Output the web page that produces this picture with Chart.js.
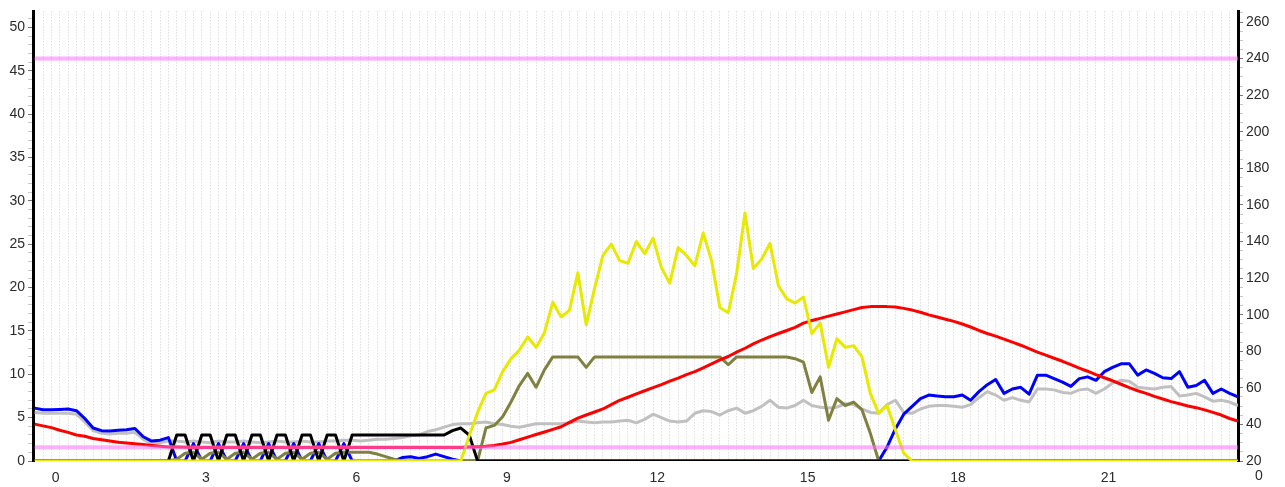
<!DOCTYPE html>
<html>
<head>
<meta charset="utf-8">
<script src="https://cdn.jsdelivr.net/npm/chart.js@4/dist/chart.umd.min.js"></script>
<style>
  html, body { margin: 0; padding: 0; background: #fff; }
</style>
</head>
<body>
<canvas id="myChart" width="1285" height="487"></canvas>
<script>
// one reading every 10 minutes, first one at 23:35 of the day before
var startHour = -25 / 60;
var stepHour = 10 / 60;

var blue = [
  6.1, 5.9, 5.9, 5.95, 6.0, 5.8, 4.9, 3.8, 3.5, 3.45, 3.55, 3.6,
  3.75, 2.8, 2.3, 2.4, 2.7, 0, 0, 2.0, 0, 0, 2.0, 0,
  0, 2.0, 0, 0, 2.0, 0, 0, 2.0, 0, 0, 2.0, 0,
  0, 2.0, 0, 0, 0, 0, 0, 0, 0.4, 0.5, 0.3, 0.5,
  0.8, 0.5, 0.2, 0, 0, 0, 0, 0, 0, 0, 0, 0,
  0, 0, 0, 0, 0, 0, 0, 0, 0, 0, 0, 0,
  0, 0, 0, 0, 0, 0, 0, 0, 0, 0, 0, 0,
  0, 0, 0, 0, 0, 0, 0, 0, 0, 0, 0, 0,
  0, 0, 0, 0, 0, 0, 1.6, 3.7, 5.4, 6.3, 7.2, 7.6,
  7.5, 7.4, 7.4, 7.6, 7.0, 8.0, 8.8, 9.4, 7.8, 8.3, 8.5, 7.7,
  9.9, 9.9, 9.5, 9.1, 8.6, 9.5, 9.7, 9.3, 10.3, 10.8, 11.2, 11.2,
  9.9, 10.5, 10.1, 9.6, 9.5, 10.3, 8.5, 8.7, 9.3, 7.8, 8.3, 7.8,
  7.4
];

var gray = [
  5.6, 5.5, 5.5, 5.5, 5.5, 5.4, 4.5, 3.5, 3.2, 3.1, 3.2, 3.2,
  3.3, 2.5, 2.0, 2.1, 2.3, 2.3, 2.2, 2.3, 2.2, 2.1, 2.3, 2.2,
  2.2, 2.3, 2.2, 2.1, 2.2, 2.3, 2.2, 2.2, 2.3, 2.2, 2.2, 2.3,
  2.3, 2.4, 2.4, 2.3, 2.4, 2.5, 2.5, 2.6, 2.7, 2.9, 3.0, 3.4,
  3.6, 3.9, 4.2, 4.3, 4.3, 4.4, 4.5, 4.3, 4.2, 4.0, 3.9, 4.1,
  4.3, 4.3, 4.3, 4.3, 4.4, 4.6, 4.5, 4.4, 4.5, 4.5, 4.6, 4.7,
  4.4, 4.8, 5.4, 5.0, 4.6, 4.5, 4.6, 5.5, 5.8, 5.7, 5.3, 5.8,
  6.1, 5.5, 5.8, 6.3, 7.0, 6.2, 6.1, 6.4, 7.0, 6.4, 6.2, 6.1,
  6.2, 6.6, 6.5, 6.0, 5.6, 5.5, 6.5, 7.0, 5.6, 5.5, 6.0, 6.3,
  6.4, 6.4, 6.3, 6.2, 6.5, 7.3, 8.0, 7.6, 7.0, 7.3, 7.0, 6.8,
  8.3, 8.3, 8.2, 7.9, 7.8, 8.2, 8.3, 7.8, 8.3, 9.0, 9.3, 9.2,
  8.5, 8.4, 8.3, 8.5, 8.6, 7.5, 7.6, 7.8, 7.4, 6.9, 7.0, 6.8,
  6.4
];

var red = [
  4.25, 4.05, 3.85, 3.55, 3.3, 3.0, 2.85, 2.6, 2.45, 2.3, 2.15, 2.08,
  2.0, 1.9, 1.8, 1.7, 1.62, 1.6, 1.58, 1.57, 1.56, 1.55, 1.55, 1.55,
  1.55, 1.55, 1.55, 1.55, 1.55, 1.55, 1.55, 1.55, 1.55, 1.55, 1.55, 1.55,
  1.55, 1.55, 1.55, 1.55, 1.55, 1.55, 1.55, 1.55, 1.55, 1.55, 1.55, 1.55,
  1.55, 1.55, 1.56, 1.57, 1.6, 1.65, 1.7, 1.8, 1.95, 2.15, 2.45, 2.75,
  3.05, 3.35, 3.65, 3.95, 4.45, 4.95, 5.3, 5.65, 6.0, 6.5, 7.0, 7.35,
  7.75, 8.1, 8.45, 8.8, 9.2, 9.55, 9.95, 10.3, 10.75, 11.2, 11.65, 12.05,
  12.55, 13.0, 13.5, 13.95, 14.35, 14.7, 15.05, 15.4, 15.9, 16.2, 16.45, 16.7,
  16.95, 17.2, 17.45, 17.7, 17.8, 17.8, 17.8, 17.75, 17.6, 17.4, 17.15, 16.85,
  16.6, 16.35, 16.1, 15.8, 15.45, 15.05, 14.7, 14.4, 14.05, 13.7, 13.35, 12.95,
  12.55, 12.2, 11.85, 11.5, 11.1, 10.7, 10.35, 9.95, 9.6, 9.25, 8.85, 8.45,
  8.1, 7.8, 7.45, 7.15, 6.85, 6.6, 6.35, 6.15, 5.9, 5.6, 5.3, 4.9,
  4.6
];

var yellow = [
  0, 0, 0, 0, 0, 0, 0, 0, 0, 0, 0, 0,
  0, 0, 0, 0, 0, 0, 0, 0, 0, 0, 0, 0,
  0, 0, 0, 0, 0, 0, 0, 0, 0, 0, 0, 0,
  0, 0, 0, 0, 0, 0, 0, 0, 0, 0, 0, 0,
  0, 0, 0, 0, 2.9, 5.6, 7.8, 8.2, 10.3, 11.8, 12.8, 14.3,
  13.1, 14.8, 18.3, 16.6, 17.4, 21.7, 15.7, 19.9, 23.7, 25.0, 23.1, 22.8,
  25.3, 23.9, 25.7, 22.3, 20.5, 24.6, 23.7, 22.5, 26.3, 23.1, 17.7, 17.1,
  21.6, 28.6, 22.2, 23.3, 25.1, 20.2, 18.7, 18.2, 18.9, 14.7, 15.9, 10.8,
  14.1, 13.1, 13.3, 12.0, 7.8, 5.5, 6.4, 3.6, 0.9, 0, 0, 0,
  0, 0, 0, 0, 0, 0, 0, 0, 0, 0, 0, 0,
  0, 0, 0, 0, 0, 0, 0, 0, 0, 0, 0, 0,
  0, 0, 0, 0, 0, 0, 0, 0, 0, 0, 0, 0,
  0
];

var olive = [
  0, 0, 0, 0, 0, 0, 0, 0, 0, 0, 0, 0,
  0, 0, 0, 0, 0, 0.2, 0.9, 1.0, 0.2, 0.9, 1.0, 0.2,
  0.9, 1.0, 0.2, 0.9, 1.0, 0.2, 0.9, 1.0, 0.2, 0.9, 1.0, 0.2,
  0.9, 1.0, 1.0, 1.0, 1.0, 0.8, 0.5, 0.2, 0, 0, 0, 0,
  0, 0, 0, 0, 0, 0, 3.8, 4.1, 5.1, 6.8, 8.7, 10.1,
  8.5, 10.5, 12, 12, 12, 12, 10.8, 12, 12, 12, 12, 12,
  12, 12, 12, 12, 12, 12, 12, 12, 12, 12, 12, 11.1,
  12, 12, 12, 12, 12, 12, 12, 11.8, 11.4, 7.9, 9.7, 4.7,
  7.2, 6.4, 6.8, 5.9, 3.2, 0, 0, 0, 0, 0, 0, 0,
  0, 0, 0, 0, 0, 0, 0, 0, 0, 0, 0, 0,
  0, 0, 0, 0, 0, 0, 0, 0, 0, 0, 0, 0,
  0, 0, 0, 0, 0, 0, 0, 0, 0, 0, 0, 0,
  0
];

var black = [
  0, 0, 0, 0, 0, 0, 0, 0, 0, 0, 0, 0,
  0, 0, 0, 0, 0, 3, 3, 0, 3, 3, 0, 3,
  3, 0, 3, 3, 0, 3, 3, 0, 3, 3, 0, 3,
  3, 0, 3, 3, 3, 3, 3, 3, 3, 3, 3, 3,
  3.0, 3.0, 3.5, 3.8, 3.0, 0, 0, 0, 0, 0, 0, 0,
  0, 0, 0, 0, 0, 0, 0, 0, 0, 0, 0, 0,
  0, 0, 0, 0, 0, 0, 0, 0, 0, 0, 0, 0,
  0, 0, 0, 0, 0, 0, 0, 0, 0, 0, 0, 0,
  0, 0, 0, 0, 0, 0, 0, 0, 0, 0, 0, 0,
  0, 0, 0, 0, 0, 0, 0, 0, 0, 0, 0, 0,
  0, 0, 0, 0, 0, 0, 0, 0, 0, 0, 0, 0,
  0, 0, 0, 0, 0, 0, 0, 0, 0, 0, 0, 0,
  0
];

// limits on the right axis
var upperLimit = 240;
var lowerLimit = 27.5;

var hourTicks = 3;
var lastHourLabel = '0';

var times = [];
for (var i = 0; i < blue.length; i++) {
  times.push(startHour + i * stepHour);
}

function points(values) {
  return values.map(function (v, i) { return {x: times[i], y: v}; });
}

function limitLine(value) {
  return [{x: times[0], y: value}, {x: times[times.length - 1], y: value}];
}

function lineSet(values, color, order) {
  return {
    data: points(values),
    borderColor: color,
    borderWidth: 3,
    borderJoinStyle: 'round',
    pointRadius: 0,
    tension: 0,
    yAxisID: 'y',
    order: order
  };
}

var fontFamily = '"Liberation Sans", Arial, sans-serif';
Chart.defaults.font.family = fontFamily;
Chart.defaults.font.size = 14;
Chart.defaults.color = '#2b2b2b';

// the last "0" (midnight) sits past the right edge of the plot
var midnightLabel = {
  id: 'midnightLabel',
  afterDraw: function (chart) {
    var xs = chart.scales.x;
    var ctx = chart.ctx;
    ctx.save();
    ctx.font = '14px ' + fontFamily;
    ctx.fillStyle = '#2b2b2b';
    ctx.textAlign = 'center';
    ctx.textBaseline = 'middle';
    ctx.fillText(lastHourLabel, xs.getPixelForValue(24), xs.top + 15);
    ctx.restore();
  }
};

new Chart(document.getElementById('myChart'), {
  type: 'line',
  data: {
    datasets: [
      {
        data: limitLine(upperLimit),
        borderColor: 'rgba(255, 110, 255, 0.55)',
        borderWidth: 4,
        pointRadius: 0,
        yAxisID: 'y2',
        order: 0
      },
      {
        data: limitLine(lowerLimit),
        borderColor: 'rgba(255, 110, 255, 0.55)',
        borderWidth: 4,
        pointRadius: 0,
        yAxisID: 'y2',
        order: 0
      },
      lineSet(yellow, '#e8e800', 1),
      lineSet(red, '#ff0000', 2),
      lineSet(black, '#000000', 3),
      lineSet(olive, '#808040', 4),
      lineSet(blue, '#0000ff', 5),
      lineSet(gray, '#c0c0c0', 6)
    ]
  },
  plugins: [midnightLabel],
  options: {
    responsive: false,
    animation: false,
    events: [],
    layout: { padding: { top: 10 } },
    plugins: {
      legend: { display: false },
      tooltip: { enabled: false }
    },
    scales: {
      x: {
        type: 'linear',
        min: -0.45,
        max: 23.5833,
        grid: { display: false },
        border: { display: false },
        ticks: {
          stepSize: hourTicks,
          includeBounds: false,
          autoSkip: false,
          maxRotation: 0,
          padding: 1,
          callback: function (v) { return String(v % 24); }
        },
        afterFit: function (s) { s.height = 26; }
      },
      xg: {
        type: 'linear',
        position: 'bottom',
        min: -0.45,
        max: 23.5833,
        grid: { color: '#d0d0d0', lineWidth: 1, drawTicks: false },
        border: { display: false, dash: [1, 2] },
        ticks: { display: false, autoSkip: false },
        afterBuildTicks: function (s) {
          s.ticks = times.map(function (t) { return {value: t}; });
        },
        afterFit: function (s) { s.height = 0; }
      },
      y: {
        position: 'left',
        min: 0,
        max: 51.84,
        grid: {
          drawOnChartArea: false,
          tickLength: 5,
          tickColor: function (c) { return c.tick.value % 5 === 0 ? '#777' : '#c8c8c8'; }
        },
        border: { color: '#000', width: 3 },
        ticks: {
          stepSize: 1,
          includeBounds: false,
          autoSkip: false,
          padding: 3,
          callback: function (v) { return v % 5 === 0 ? String(v) : ''; }
        },
        afterFit: function (s) { s.width = 33; }
      },
      y2: {
        position: 'right',
        min: 20,
        max: 265.8,
        grid: {
          drawOnChartArea: false,
          tickLength: 5,
          tickColor: function (c) { return c.tick.value % 20 === 0 ? '#777' : '#c8c8c8'; }
        },
        border: { color: '#000', width: 3 },
        ticks: {
          stepSize: 5,
          includeBounds: false,
          autoSkip: false,
          padding: 3,
          callback: function (v) { return v % 20 === 0 ? String(v) : ''; }
        },
        afterFit: function (s) { s.width = 47; }
      }
    }
  }
});
</script>
</body>
</html>
